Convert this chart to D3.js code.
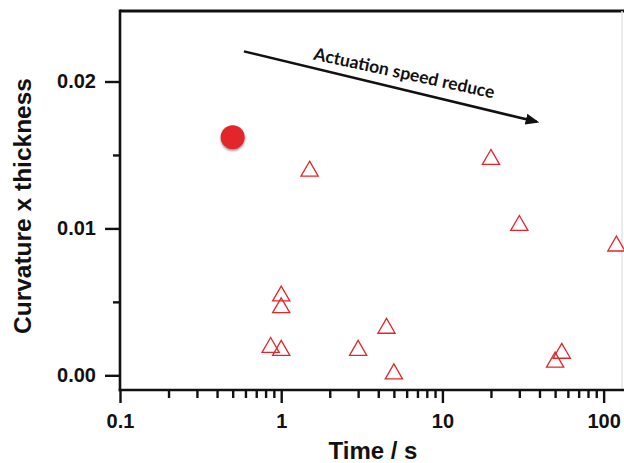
<!DOCTYPE html>
<html>
<head>
<meta charset="utf-8">
<script src="https://cdn.jsdelivr.net/npm/d3@7"></script>
<style>
  html, body { margin: 0; padding: 0; background: #fff; }
  svg { display: block; }
</style>
</head>
<body>
<div id="chart"></div>
<script>
//////////////////////////////////////////////
/////////////// Data (read off) //////////////
//////////////////////////////////////////////

// open triangles: literature points
const triTime = [1.5, 20, 30, 120, 1, 1, 0.86, 1, 3, 4.5, 5, 50, 55];
const triCurv = [0.0139, 0.0147, 0.0102, 0.0088, 0.0054, 0.0046, 0.0019, 0.0017, 0.0017, 0.0032, 0.0001, 0.0009, 0.0015];

// filled circle: this work
const dotTime = [0.5];
const dotCurv = [0.0162];

const xMajorTicks = [0.1, 1, 10, 100];
const xTickLabels = ["0.1", "1", "10", "100"];
const yMajorTicks = [0, 0.01, 0.02];
const yTickLabels = ["0.00", "0.01", "0.02"];
const yMinorTicks = [0.005, 0.015];

const xTitle = "Time / s";
const yTitle = "Curvature x thickness";
const arrowText = "Actuation speed reduce";
// arrow ends in data space [time, curvature]
const arrowFrom = [0.587, 0.02205];
const arrowTo = [40.7, 0.01719];

//////////////////////////////////////////////
////////////////// Layout ////////////////////
//////////////////////////////////////////////

const W = 624, H = 463;
const mLeft = 120, mTop = 11, mBottom = 390, mRight = 622;

const x = d3.scaleLog().domain([0.1, 130]).range([mLeft, mRight]);
const y = d3.scaleLinear().domain([-0.001, 0.0248]).range([mBottom, mTop]);

const red = "#e3262b";
const font = "'Liberation Sans', Arial, sans-serif";

const svg = d3.select("#chart").append("svg")
  .attr("width", W).attr("height", H);

const defs = svg.append("defs");
const shadow = defs.append("filter").attr("id", "shadow")
  .attr("x", "-50%").attr("y", "-50%").attr("width", "200%").attr("height", "200%");
shadow.append("feDropShadow")
  .attr("dx", 0).attr("dy", 1.5).attr("stdDeviation", 1.2)
  .attr("flood-color", "#000").attr("flood-opacity", 0.45);
defs.append("marker").attr("id", "head")
  .attr("viewBox", "0 0 10 10").attr("refX", 8).attr("refY", 5)
  .attr("markerWidth", 5.5).attr("markerHeight", 5.5).attr("orient", "auto")
  .attr("markerUnits", "strokeWidth")
  .append("path").attr("d", "M0,1 L10,5 L0,9 Z").attr("fill", "#111");

//////////////////////////////////////////////
/////////////////// Axes /////////////////////
//////////////////////////////////////////////

// minor ticks on log axis (2..9 each decade, below 130)
const xMinorTicks = [];
[0.1, 1, 10].forEach(d => d3.range(2, 10).forEach(k => xMinorTicks.push(+(d * k).toPrecision(3))));

const axisStyle = g => {
  g.select(".domain").remove();
  g.selectAll("line").attr("stroke", "#111").attr("stroke-width", 2.4);
  g.selectAll("text").attr("fill", "#111")
    .style("font-family", font).style("font-weight", "bold").style("font-size", "20px");
};

svg.append("g").attr("transform", `translate(0,${mBottom})`)
  .call(d3.axisBottom(x).tickValues(xMinorTicks).tickSize(8).tickFormat(""))
  .call(axisStyle);
svg.append("g").attr("transform", `translate(0,${mBottom})`)
  .call(d3.axisBottom(x).tickValues(xMajorTicks).tickSize(13).tickPadding(10.5)
    .tickFormat((d, i) => xTickLabels[i]))
  .call(axisStyle);

svg.append("g").attr("transform", `translate(${mLeft},0)`)
  .call(d3.axisLeft(y).tickValues(yMinorTicks).tickSize(7).tickFormat(""))
  .call(axisStyle);
svg.append("g").attr("transform", `translate(${mLeft},0)`)
  .call(d3.axisLeft(y).tickValues(yMajorTicks).tickSize(15).tickPadding(9)
    .tickFormat((d, i) => yTickLabels[i]))
  .call(axisStyle);

// frame
svg.append("line").attr("x1", mLeft).attr("x2", W).attr("y1", mTop).attr("y2", mTop)
  .attr("stroke", "#111").attr("stroke-width", 3);
svg.append("line").attr("x1", mRight).attr("x2", mRight).attr("y1", mTop).attr("y2", mBottom)
  .attr("stroke", "#e4e4e4").attr("stroke-width", 1.5);
svg.append("line").attr("x1", mLeft).attr("x2", mLeft).attr("y1", mTop - 1.5).attr("y2", mBottom + 1.2)
  .attr("stroke", "#111").attr("stroke-width", 2.6);
svg.append("line").attr("x1", mLeft - 1.3).attr("x2", W).attr("y1", mBottom).attr("y2", mBottom)
  .attr("stroke", "#111").attr("stroke-width", 2.6);

// titles
svg.append("text")
  .attr("x", 373).attr("y", 459).attr("text-anchor", "middle")
  .style("font-family", font).style("font-weight", "bold").style("font-size", "24px")
  .attr("fill", "#111").text(xTitle);
svg.append("text")
  .attr("transform", "translate(31,206) rotate(-90)").attr("text-anchor", "middle")
  .style("font-family", font).style("font-weight", "bold").style("font-size", "24.5px")
  .attr("fill", "#111").text(yTitle);

//////////////////////////////////////////////
/////////////////// Marks ////////////////////
//////////////////////////////////////////////

const tri = d3.symbol().type(d3.symbolTriangle).size(128);
svg.append("g").selectAll("path")
  .data(triTime.map((t, i) => [t, triCurv[i]]))
  .enter().append("path")
  .attr("transform", d => `translate(${x(d[0])},${y(d[1])})`)
  .attr("d", tri)
  .attr("fill", "none")
  .attr("stroke", red)
  .attr("stroke-width", 1.3);

svg.append("g").selectAll("circle")
  .data(dotTime.map((t, i) => [t, dotCurv[i]]))
  .enter().append("circle")
  .attr("cx", d => x(d[0])).attr("cy", d => y(d[1]))
  .attr("r", 12)
  .attr("fill", red)
  .style("filter", "url(#shadow)");

//////////////////////////////////////////////
//////////////// Annotation //////////////////
//////////////////////////////////////////////

const ax1 = x(arrowFrom[0]), ay1 = y(arrowFrom[1]);
const ax2 = x(arrowTo[0]), ay2 = y(arrowTo[1]);
svg.append("line")
  .attr("x1", ax1).attr("y1", ay1).attr("x2", ax2 - 4).attr("y2", ay2 - 1)
  .attr("stroke", "#111").attr("stroke-width", 2.5)
  .attr("marker-end", "url(#head)");

const tx = ax1 + (ax2 - ax1) * 0.232, ty = ay1 + (ay2 - ay1) * 0.232 - 8.5;
svg.append("text")
  .attr("transform", `translate(${tx},${ty}) rotate(12.2)`)
  .style("font-family", "Lato, 'Open Sans', sans-serif").style("font-weight", "bold")
  .style("font-size", "17.5px")
  .attr("fill", "#111").text(arrowText);
</script>
</body>
</html>
